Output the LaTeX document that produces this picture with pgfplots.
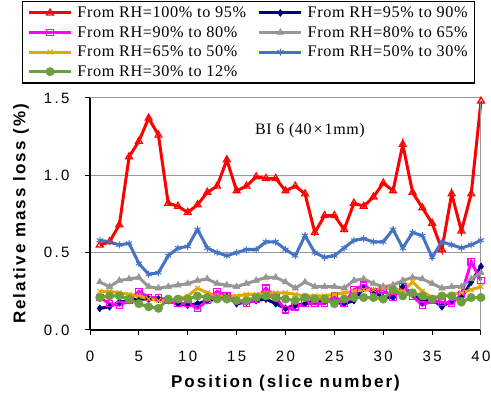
\documentclass[border=0pt]{standalone}
\usepackage{pgfplots}
\pgfplotsset{compat=1.18}
\usepackage{fontspec}
\setmainfont{Liberation Serif}
\newfontfamily\legfont[LetterSpace=4]{Liberation Serif}
\newfontfamily\tickfont[LetterSpace=16]{Liberation Sans}
\newfontfamily\labfont[LetterSpace=12]{Liberation Sans}
\definecolor{cred}{HTML}{FF0000}
\definecolor{cnavy}{HTML}{000080}
\definecolor{cmag}{HTML}{FF00FF}
\definecolor{cgray}{HTML}{969696}
\definecolor{corange}{HTML}{E0A800}
\definecolor{cblue}{HTML}{4472C4}
\definecolor{cgreen}{HTML}{6E9E3E}
\definecolor{gridgray}{HTML}{999999}
\pgfplotsset{mylegimg/.style={legend image code/.code={\draw[line width=3pt,mark repeat=2,mark phase=2] plot coordinates {(0pt,0pt)(21pt,0pt)(42pt,0pt)};\path (45pt,0pt);}}}
\begin{document}
\begin{tikzpicture}
\begin{axis}[
  scale only axis, width=391pt, height=232pt,
  xmin=0, xmax=40, ymin=0, ymax=1.5,
  xtick={0,5,...,40}, ytick={0,0.5,1.0,1.5},
  axis x line*=bottom, axis y line*=left,
  axis line style={line width=1.2pt, black, -},
  tick align=outside, tick style={line width=1pt, black},
  major tick length=5pt,
  ymajorgrids, grid style={gridgray, line width=1pt},
  /pgf/number format/assume math mode=true,
  yticklabel style={/pgf/number format/.cd, fixed, fixed zerofill, precision=1, /tikz/.cd, xshift=-12pt},
  xticklabel style={yshift=-13pt},
  tick label style={font=\fontsize{15}{17}\tickfont},
  xlabel={Position (slice number)}, ylabel={Relative mass loss (\%)},
  label style={font=\fontsize{17}{19}\labfont\bfseries},
  xlabel style={yshift=-6pt},
  ylabel style={yshift=8pt},
  legend columns=2,
  legend style={at={(rel axis cs:-0.174,1.418)}, anchor=north west, draw=black, line width=1.2pt,
    font=\fontsize{16.2}{18}\legfont, inner xsep=5pt, inner ysep=1.5pt,
    /tikz/every even column/.append style={column sep=10pt},
    nodes={inner sep=1.8pt, text height=12.5pt, text depth=3.5pt}},
  legend cell align=left,
  every axis plot/.append style={line width=3pt},
  every axis plot post/.append style={mylegimg},
  clip=false,
]
\addplot[cred, mark=triangle, mark size=4pt, mark options={fill=white, line width=1.2pt}] coordinates {
(1,0.55)(2,0.57)(3,0.68)(4,1.12)(5,1.22)(6,1.37)(7,1.26)(8,0.82)(9,0.80)(10,0.76)
(11,0.81)(12,0.89)(13,0.93)(14,1.10)(15,0.90)(16,0.93)(17,0.99)(18,0.98)(19,0.98)(20,0.90)
(21,0.93)(22,0.88)(23,0.63)(24,0.74)(25,0.74)(26,0.65)(27,0.82)(28,0.80)(29,0.86)(30,0.95)
(31,0.90)(32,1.20)(33,0.89)(34,0.79)(35,0.69)(36,0.52)(37,0.88)(38,0.64)(39,0.88)(40,1.48)};
\addlegendentry{From RH=100\% to 95\%}
\addplot[cnavy, mark=diamond*, mark size=3.5pt, mark options={line width=0.5pt}] coordinates {
(1,0.14)(2,0.15)(3,0.18)(4,0.19)(5,0.20)(6,0.20)(7,0.20)(8,0.19)(9,0.17)(10,0.16)
(11,0.17)(12,0.19)(13,0.20)(14,0.22)(15,0.17)(16,0.18)(17,0.19)(18,0.20)(19,0.17)(20,0.14)
(21,0.16)(22,0.17)(23,0.19)(24,0.19)(25,0.18)(26,0.17)(27,0.19)(28,0.27)(29,0.25)(30,0.21)
(31,0.21)(32,0.28)(33,0.23)(34,0.18)(35,0.20)(36,0.15)(37,0.19)(38,0.21)(39,0.31)(40,0.41)};
\addlegendentry{From RH=95\% to 90\%}
\addplot[cmag, mark=square, mark size=3.2pt, mark options={fill=white, line width=1.2pt}] coordinates {
(1,0.21)(2,0.17)(3,0.16)(4,0.19)(5,0.25)(6,0.21)(7,0.21)(8,0.19)(9,0.17)(10,0.17)
(11,0.14)(12,0.19)(13,0.25)(14,0.22)(15,0.19)(16,0.17)(17,0.20)(18,0.27)(19,0.21)(20,0.13)
(21,0.15)(22,0.17)(23,0.17)(24,0.17)(25,0.22)(26,0.17)(27,0.26)(28,0.29)(29,0.25)(30,0.26)
(31,0.21)(32,0.28)(33,0.22)(34,0.16)(35,0.19)(36,0.18)(37,0.17)(38,0.23)(39,0.44)(40,0.32)};
\addlegendentry{From RH=90\% to 80\%}
\addplot[cgray, mark=triangle*, mark size=3.8pt, mark options={line width=0.5pt}] coordinates {
(1,0.31)(2,0.28)(3,0.32)(4,0.33)(5,0.34)(6,0.28)(7,0.27)(8,0.28)(9,0.29)(10,0.30)
(11,0.32)(12,0.33)(13,0.30)(14,0.29)(15,0.28)(16,0.30)(17,0.32)(18,0.34)(19,0.34)(20,0.31)
(21,0.27)(22,0.31)(23,0.28)(24,0.28)(25,0.28)(26,0.27)(27,0.32)(28,0.33)(29,0.30)(30,0.28)
(31,0.29)(32,0.32)(33,0.34)(34,0.33)(35,0.30)(36,0.27)(37,0.28)(38,0.28)(39,0.33)(40,0.37)};
\addlegendentry{From RH=80\% to 65\%}
\addplot[corange, mark=x, mark size=3.5pt, mark options={line width=1pt}] coordinates {
(1,0.25)(2,0.25)(3,0.24)(4,0.23)(5,0.22)(6,0.20)(7,0.19)(8,0.19)(9,0.20)(10,0.22)
(11,0.27)(12,0.24)(13,0.22)(14,0.22)(15,0.22)(16,0.23)(17,0.23)(18,0.24)(19,0.24)(20,0.24)
(21,0.23)(22,0.22)(23,0.22)(24,0.22)(25,0.23)(26,0.24)(27,0.25)(28,0.26)(29,0.26)(30,0.27)
(31,0.27)(32,0.25)(33,0.31)(34,0.25)(35,0.21)(36,0.22)(37,0.23)(38,0.24)(39,0.26)(40,0.28)};
\addlegendentry{From RH=65\% to 50\%}
\addplot[cblue, mark=asterisk, mark size=3.5pt, mark options={line width=1pt}] coordinates {
(1,0.58)(2,0.57)(3,0.55)(4,0.56)(5,0.43)(6,0.36)(7,0.37)(8,0.48)(9,0.53)(10,0.54)
(11,0.65)(12,0.53)(13,0.50)(14,0.48)(15,0.50)(16,0.52)(17,0.52)(18,0.57)(19,0.57)(20,0.52)
(21,0.48)(22,0.61)(23,0.50)(24,0.47)(25,0.48)(26,0.53)(27,0.58)(28,0.59)(29,0.57)(30,0.57)
(31,0.65)(32,0.53)(33,0.63)(34,0.61)(35,0.47)(36,0.57)(37,0.55)(38,0.53)(39,0.55)(40,0.58)};
\addlegendentry{From RH=50\% to 30\%}
\addplot[cgreen, mark=*, mark size=4.2pt, mark options={line width=0.5pt}] coordinates {
(1,0.21)(2,0.22)(3,0.22)(4,0.20)(5,0.17)(6,0.15)(7,0.14)(8,0.20)(9,0.20)(10,0.20)
(11,0.22)(12,0.21)(13,0.20)(14,0.20)(15,0.19)(16,0.19)(17,0.21)(18,0.22)(19,0.21)(20,0.20)
(21,0.19)(22,0.21)(23,0.20)(24,0.20)(25,0.17)(26,0.20)(27,0.21)(28,0.21)(29,0.21)(30,0.20)
(31,0.26)(32,0.22)(33,0.24)(34,0.22)(35,0.20)(36,0.22)(37,0.22)(38,0.18)(39,0.21)(40,0.21)};
\addlegendentry{From RH=30\% to 12\%}
\draw[gridgray, line width=1pt] (rel axis cs:1,0) -- (rel axis cs:1,1);
\node[font=\fontsize{16}{18}\legfont] at (axis cs:22.5,1.29) {BI 6 (40\hspace{2pt}×\hspace{2pt}1mm)};
\coordinate (bbl) at (rel axis cs:-0.2302,-0.2888);
\coordinate (btr) at (rel axis cs:1.0256,1.4224);
\end{axis}
\pgfresetboundingbox
\path (bbl) rectangle (btr);
\end{tikzpicture}
\end{document}
